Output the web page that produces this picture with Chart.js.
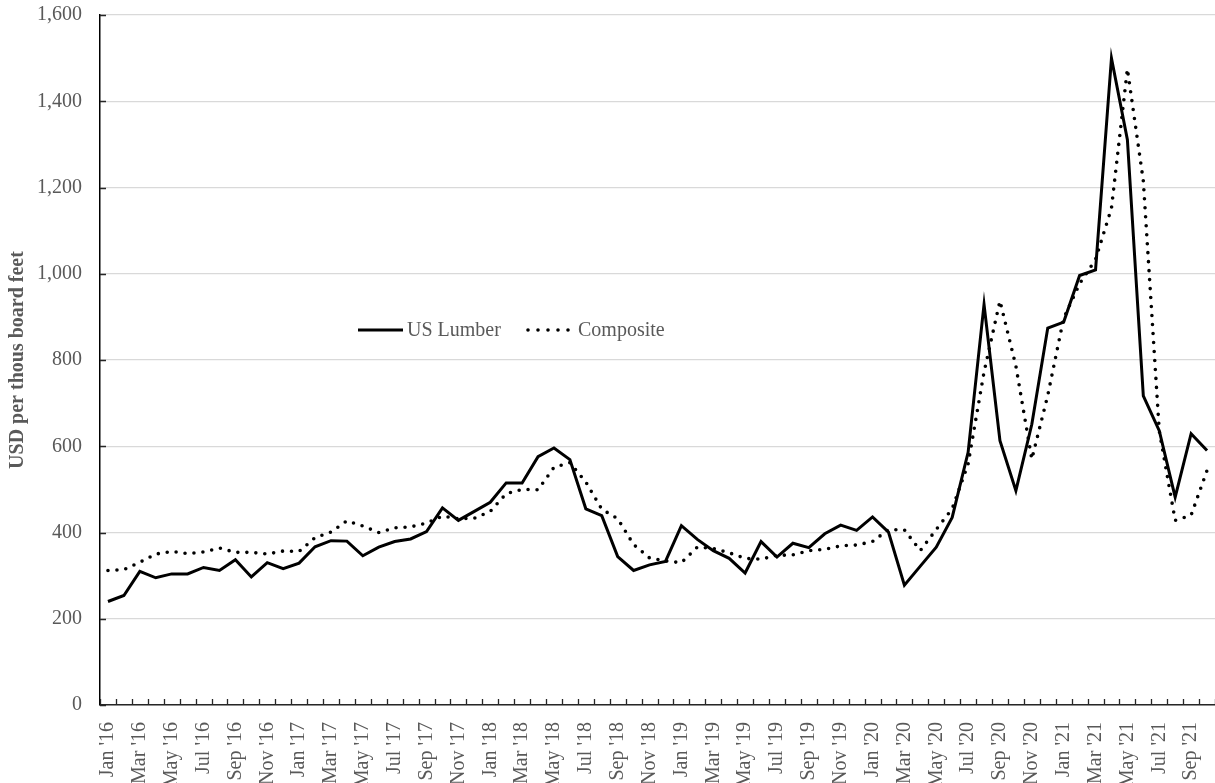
<!DOCTYPE html>
<html>
<head>
<meta charset="utf-8">
<title>US Lumber vs Composite</title>
<script src="https://cdn.jsdelivr.net/npm/chart.js@4.4.1/dist/chart.umd.min.js"></script>
<style>
  html, body { margin: 0; padding: 0; background: #ffffff; overflow: hidden; }
  #box { width: 1215px; height: 783px; position: relative; }
</style>
</head>
<body>
<div id="box"><canvas id="lumberChart"></canvas></div>
<script>
// 月份標籤 (Jan '16 ~ Oct '21)
let monthNames = ['Jan', 'Feb', 'Mar', 'Apr', 'May', 'Jun', 'Jul', 'Aug', 'Sep', 'Oct', 'Nov', 'Dec'];
let years = ['16', '17', '18', '19', '20', '21'];
let labels = [];
years.forEach(function (yy) {
  monthNames.forEach(function (mm) {
    labels.push(mm + " '" + yy);
  });
});
labels = labels.slice(0, 70);

// US Lumber 價格
let lumberData = [
  240, 254, 310, 295, 304, 304, 319, 312, 337, 297, 330, 316,
  329, 367, 381, 380, 346, 366, 379, 385, 402, 457, 428, 449,
  470, 515, 515, 576, 596, 569, 455, 439, 344, 312, 325, 333,
  416, 384, 358, 340, 306, 379, 343, 375, 365, 397, 417, 405,
  436, 401, 278, 322, 366, 435, 586, 929, 613, 497, 651, 874,
  888, 996, 1009, 1500, 1311, 717, 636, 482, 629, 590
];

// Composite 價格
let compositeData = [
  312, 314, 331, 350, 356, 351, 355, 364, 354, 354, 350, 357,
  356, 388, 401, 427, 415, 400, 411, 413, 422, 438, 432, 433,
  449, 490, 500, 499, 551, 562, 517, 454, 432, 372, 341, 334,
  330, 366, 363, 353, 340, 338, 347, 348, 358, 361, 369, 371,
  379, 407, 406, 358, 407, 455, 559, 772, 937, 786, 570, 718,
  897, 977, 1033, 1152, 1475, 1215, 636, 428, 440, 544
];

// Y 軸刻度
let yTicks = [0, 200, 400, 600, 800, 1000, 1200, 1400, 1600];

let seriesNames = ['US Lumber', 'Composite'];
let fontFamily = '"Liberation Serif", "Times New Roman", serif';
let textColor = '#595959';

// 刻度線畫在圖內 (像 Excel)
const innerTicks = {
  id: 'innerTicks',
  afterDatasetsDraw(chart) {
    const ctx = chart.ctx;
    const x = chart.scales.x;
    const y = chart.scales.y;
    ctx.save();
    ctx.strokeStyle = '#262626';
    ctx.lineWidth = 1.3;
    ctx.beginPath();
    for (let i = 0; i <= labels.length; i++) {
      let px = Math.round(x.getPixelForDecimal(i / labels.length)) + 0.5;
      ctx.moveTo(px, y.bottom);
      ctx.lineTo(px, y.bottom - 6);
    }
    y.ticks.forEach(function (t) {
      let py = Math.round(y.getPixelForValue(t.value)) + 0.5;
      ctx.moveTo(x.left, py);
      ctx.lineTo(x.left + 6, py);
    });
    ctx.stroke();
    ctx.restore();
  }
};

// 圖例 (放在圖內)
const innerLegend = {
  id: 'innerLegend',
  afterDraw(chart) {
    const ctx = chart.ctx;
    const area = chart.chartArea;
    const sets = chart.data.datasets;
    let ly = area.top + 315;
    let lx = area.left + 258;
    ctx.save();
    ctx.font = '20px ' + fontFamily;
    ctx.fillStyle = textColor;
    ctx.textBaseline = 'middle';

    // 實線
    ctx.strokeStyle = sets[0].borderColor;
    ctx.lineWidth = sets[0].borderWidth;
    ctx.beginPath();
    ctx.moveTo(lx, ly);
    ctx.lineTo(lx + 45, ly);
    ctx.stroke();
    ctx.fillText(sets[0].label, lx + 49, ly + 1);

    // 點線
    let dx = lx + 170;
    ctx.strokeStyle = sets[1].borderColor;
    ctx.lineWidth = sets[1].borderWidth;
    ctx.lineCap = 'round';
    ctx.setLineDash([0, 10]);
    ctx.beginPath();
    ctx.moveTo(dx, ly);
    ctx.lineTo(dx + 41, ly);
    ctx.stroke();
    ctx.setLineDash([]);
    ctx.fillText(sets[1].label, dx + 50, ly + 1);
    ctx.restore();
  }
};

let chartEl = document.querySelector('#lumberChart');
new Chart(chartEl, {
  type: 'line',
  data: {
    labels: labels,
    datasets: [
      {
        label: seriesNames[0],
        data: lumberData,
        borderColor: '#000000',
        borderWidth: 3,
        pointRadius: 0,
        tension: 0,
        fill: false
      },
      {
        label: seriesNames[1],
        data: compositeData,
        borderColor: '#000000',
        borderWidth: 3.6,
        borderDash: [0, 9],
        borderCapStyle: 'round',
        pointRadius: 0,
        tension: 0,
        fill: false
      }
    ]
  },
  options: {
    responsive: true,
    maintainAspectRatio: false,
    animation: false,
    layout: { padding: { top: 15, right: 0, bottom: 0, left: 0 } },
    plugins: {
      legend: { display: false },
      tooltip: { enabled: false }
    },
    scales: {
      x: {
        offset: true,
        afterFit: function (scale) {
          // 旋轉標籤不要再多留左右空白, 軸高固定
          scale.paddingLeft = 0;
          scale.paddingRight = 0;
          scale.height = 78;
        },
        grid: { display: false, drawTicks: false },
        border: { display: true, color: '#262626', width: 1.5 },
        ticks: {
          autoSkip: false,
          maxRotation: 90,
          minRotation: 90,
          padding: 17,
          color: textColor,
          font: { family: fontFamily, size: 20 },
          callback: function (value, index) {
            return index % 2 === 0 ? labels[index] : '';
          }
        }
      },
      y: {
        min: yTicks[0],
        max: yTicks[yTicks.length - 1],
        afterBuildTicks: function (scale) {
          scale.ticks = yTicks.map(function (v) { return { value: v }; });
        },
        afterFit: function (scale) {
          scale.paddingTop = 0;
          scale.paddingBottom = 0;
          scale.width = 100;
        },
        grid: { color: '#d9d9d9', lineWidth: 1.3, drawTicks: false },
        border: { display: true, color: '#000000', width: 1.5 },
        ticks: {
          padding: 18,
          color: textColor,
          font: { family: fontFamily, size: 20 },
          callback: function (value) {
            return value.toLocaleString('en-US');
          }
        },
        title: {
          display: true,
          text: 'USD per thous board feet',
          color: textColor,
          font: { family: fontFamily, size: 20, weight: 'bold' },
          padding: { top: 6, bottom: 7 }
        }
      }
    }
  },
  plugins: [innerTicks, innerLegend]
});
</script>
</body>
</html>
